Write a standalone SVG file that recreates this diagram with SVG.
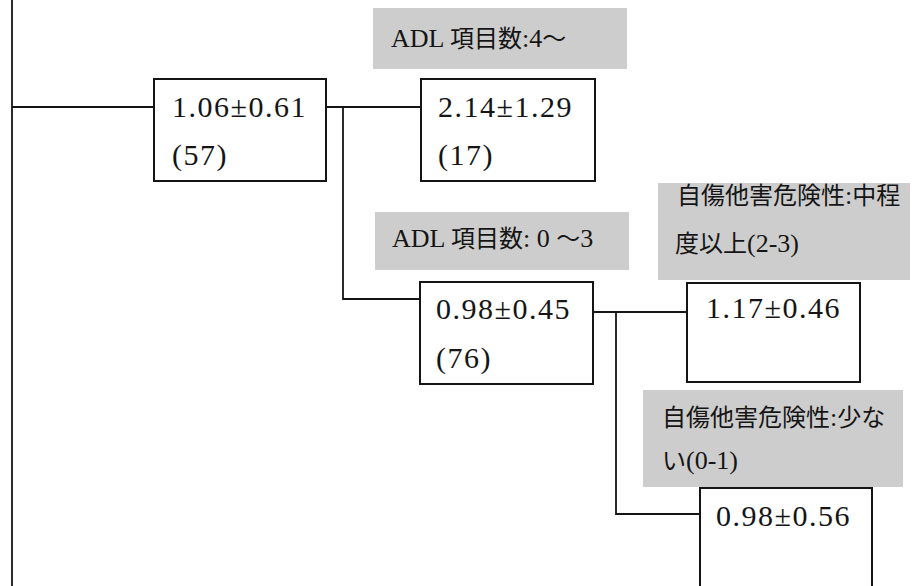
<svg xmlns="http://www.w3.org/2000/svg" width="915" height="586" viewBox="0 0 915 586">
<style>
.bg{fill:#ffffff}
.box{fill:#ffffff;stroke:#151515;stroke-width:2}
.lbl{fill:#cdcdcd;stroke:none}
.conn{fill:none;stroke:#151515;stroke-width:1.8}
.num{font-family:"Liberation Serif","Times New Roman",serif;font-size:30px;letter-spacing:1.5px;fill:#151515}
.jp{font-family:"Liberation Serif","Noto Sans CJK JP",serif;font-size:24px;fill:#151515}
.lt{font-size:26px}
</style>
<rect class="bg" x="0" y="0" width="915" height="586"/>
<g id="connectors">
<path class="conn" d="M12,0 V586"/>
<path class="conn" d="M12,107 H154"/>
<path class="conn" d="M326,107 H421"/>
<path class="conn" d="M343,107 V299 H420"/>
<path class="conn" d="M593,312 H687"/>
<path class="conn" d="M616,312 V514 H700"/>
</g>
<g id="label-adl-4">
<rect class="lbl" x="373" y="8" width="254" height="61"/>
<text class="jp" x="391" y="47"><tspan class="lt">ADL </tspan>項目数<tspan class="lt">:4</tspan>～</text>
</g>
<g id="label-adl-0-3">
<rect class="lbl" x="375" y="212" width="254" height="58"/>
<text class="jp" x="392" y="247"><tspan class="lt">ADL </tspan>項目数<tspan class="lt">: 0 </tspan>～<tspan class="lt">3</tspan></text>
</g>
<g id="label-risk-high">
<rect class="lbl" x="658" y="183" width="252" height="97"/>
<text class="jp" x="677" y="204">自傷他害危険性<tspan class="lt">:</tspan>中程</text>
<text class="jp" x="675" y="252">度以上<tspan class="lt">(2-3)</tspan></text>
</g>
<g id="label-risk-low">
<rect class="lbl" x="643" y="390" width="260" height="97"/>
<text class="jp" x="662" y="426">自傷他害危険性<tspan class="lt">:</tspan>少な</text>
<text class="jp" x="662" y="469">い<tspan class="lt">(0-1)</tspan></text>
</g>
<g id="node-root">
<rect class="box" x="154" y="79" width="172" height="102"/>
<text class="num" x="172" y="117">1.06±0.61</text>
<text class="num" x="172" y="165">(57)</text>
</g>
<g id="node-adl-4">
<rect class="box" x="421" y="79" width="174" height="102"/>
<text class="num" x="438" y="117">2.14±1.29</text>
<text class="num" x="438" y="165">(17)</text>
</g>
<g id="node-adl-0-3">
<rect class="box" x="420" y="282" width="173" height="102"/>
<text class="num" x="436" y="319">0.98±0.45</text>
<text class="num" x="436" y="368">(76)</text>
</g>
<g id="node-risk-high">
<rect class="box" x="687" y="283" width="173" height="99"/>
<text class="num" x="706" y="318">1.17±0.46</text>
</g>
<g id="node-risk-low">
<rect class="box" x="700" y="488" width="172" height="120"/>
<text class="num" x="716" y="526">0.98±0.56</text>
</g>
</svg>
